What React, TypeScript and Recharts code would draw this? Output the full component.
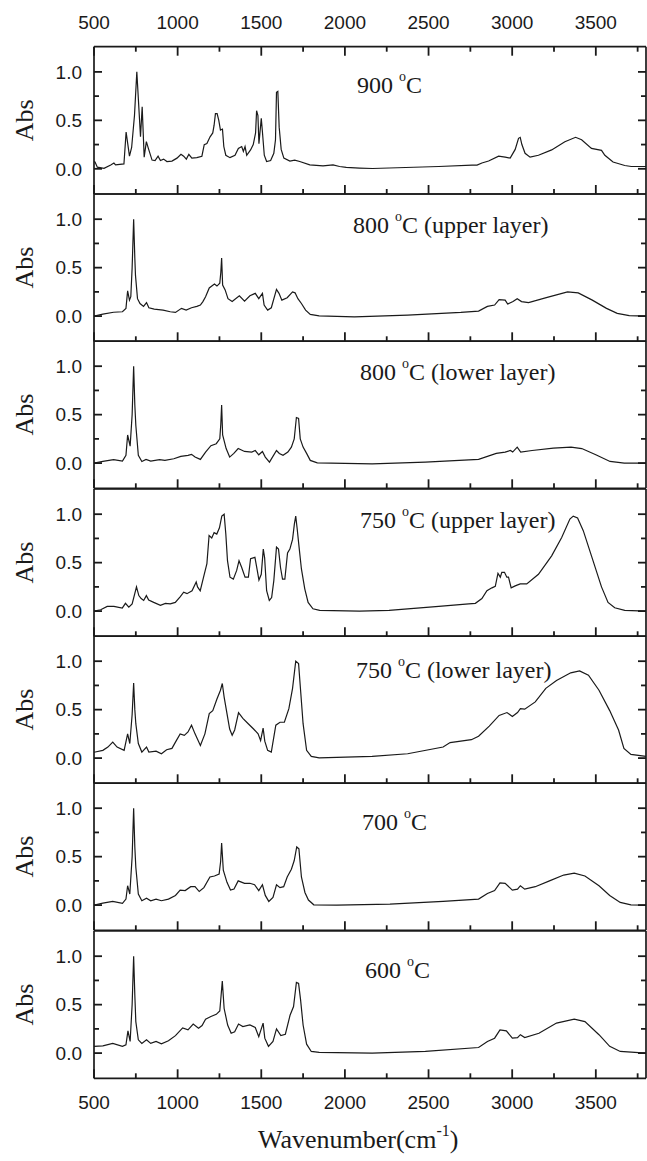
import { LineChart, Line, XAxis, YAxis, Customized } from 'recharts';

// wavenumber axis (cm-1) and absorbance axis
const majorWavenumbers = [500, 1000, 1500, 2000, 2500, 3000, 3500];
const minorWavenumbers = [750, 1250, 1750, 2250, 2750, 3250, 3750];
const majorAbs = [0, 0.5, 1];
const minorAbs = [0.25, 0.75];

// spectra: [wavenumber, abs]
const spectrum900: [number, number][] = [
  [500, 0.075], [506, 0.07], [520, 0.017], [560, 0.005], [600, 0.04], [619, 0.06], [629, 0.04], [679, 0.05],
  [692, 0.38], [712, 0.13], [725, 0.22], [742, 0.55], [756, 1.0], [778, 0.33], [788, 0.64], [800, 0.12],
  [813, 0.28], [825, 0.21], [847, 0.09], [865, 0.085], [883, 0.13], [897, 0.085], [916, 0.1], [936, 0.075],
  [966, 0.08], [996, 0.11], [1020, 0.15], [1036, 0.13], [1052, 0.1], [1067, 0.15], [1085, 0.11], [1115, 0.115],
  [1145, 0.13], [1159, 0.25], [1175, 0.26], [1194, 0.33], [1210, 0.37], [1218, 0.45], [1226, 0.57], [1236, 0.57],
  [1246, 0.5], [1256, 0.4], [1268, 0.41], [1276, 0.23], [1288, 0.14], [1313, 0.115], [1343, 0.14], [1363, 0.21],
  [1383, 0.23], [1393, 0.18], [1403, 0.23], [1413, 0.14], [1436, 0.195], [1452, 0.25], [1466, 0.37], [1472, 0.6],
  [1480, 0.55], [1486, 0.26], [1500, 0.52], [1506, 0.4], [1518, 0.14], [1532, 0.075], [1556, 0.085], [1575, 0.16],
  [1585, 0.3], [1591, 0.79], [1599, 0.8], [1607, 0.43], [1619, 0.2], [1635, 0.11], [1671, 0.08], [1700, 0.09],
  [1730, 0.075], [1790, 0.04], [1869, 0.03], [1929, 0.04], [1968, 0.024], [2008, 0.014], [2087, 0.007],
  [2165, 0.003], [2561, 0.024], [2760, 0.038], [2790, 0.038], [2819, 0.06], [2859, 0.08], [2919, 0.13],
  [2958, 0.12], [2988, 0.11], [3018, 0.2], [3038, 0.315], [3048, 0.325], [3058, 0.25], [3077, 0.16], [3107, 0.12],
  [3157, 0.14], [3236, 0.195], [3315, 0.28], [3379, 0.325], [3415, 0.3], [3474, 0.21], [3534, 0.19], [3554, 0.14],
  [3603, 0.07], [3673, 0.034], [3712, 0.024], [3800, 0.024],
];

const spectrum800Upper: [number, number][] = [
  [500, 0.0], [553, 0.02], [617, 0.04], [670, 0.045], [691, 0.08], [701, 0.26], [712, 0.165], [720, 0.2],
  [728, 0.5], [737, 1.0], [744, 0.6], [748, 0.42], [760, 0.18], [775, 0.13], [796, 0.1], [814, 0.14],
  [828, 0.086], [860, 0.072], [913, 0.062], [956, 0.045], [987, 0.038], [1023, 0.08], [1051, 0.062], [1083, 0.086],
  [1115, 0.1], [1136, 0.114], [1151, 0.15], [1167, 0.2], [1189, 0.29], [1220, 0.33], [1235, 0.31], [1252, 0.34],
  [1258, 0.45], [1263, 0.6], [1269, 0.32], [1284, 0.27], [1301, 0.18], [1326, 0.15], [1369, 0.21], [1400, 0.155],
  [1432, 0.21], [1464, 0.235], [1485, 0.18], [1507, 0.235], [1517, 0.114], [1538, 0.062], [1560, 0.086],
  [1591, 0.275], [1606, 0.235], [1623, 0.165], [1655, 0.19], [1687, 0.25], [1702, 0.24], [1719, 0.18],
  [1740, 0.13], [1765, 0.062], [1793, 0.017], [1846, 0.003], [2057, -0.007], [2375, 0.01], [2693, 0.038],
  [2799, 0.052], [2852, 0.1], [2895, 0.114], [2922, 0.17], [2958, 0.165], [2973, 0.124], [3005, 0.15],
  [3030, 0.18], [3056, 0.15], [3098, 0.14], [3204, 0.19], [3331, 0.25], [3395, 0.24], [3479, 0.165],
  [3564, 0.08], [3628, 0.028], [3700, 0.005], [3800, 0.0],
];

const spectrum800Lower: [number, number][] = [
  [500, 0.0], [553, 0.017], [617, 0.035], [670, 0.02], [691, 0.08], [701, 0.29], [716, 0.175], [728, 0.5],
  [737, 1.0], [744, 0.6], [750, 0.39], [765, 0.08], [786, 0.017], [811, 0.038], [839, 0.02], [892, 0.035],
  [924, 0.028], [977, 0.045], [1019, 0.07], [1062, 0.08], [1083, 0.09], [1104, 0.062], [1136, 0.038],
  [1167, 0.114], [1199, 0.18], [1231, 0.2], [1252, 0.25], [1258, 0.4], [1263, 0.6], [1269, 0.29], [1290, 0.15],
  [1311, 0.062], [1336, 0.1], [1362, 0.15], [1400, 0.12], [1443, 0.114], [1464, 0.13], [1485, 0.086],
  [1507, 0.12], [1524, 0.062], [1549, 0.01], [1591, 0.13], [1608, 0.1], [1630, 0.08], [1659, 0.114],
  [1680, 0.165], [1697, 0.25], [1710, 0.47], [1723, 0.46], [1733, 0.25], [1750, 0.165], [1771, 0.1],
  [1793, 0.028], [1835, 0.003], [2163, -0.007], [2481, 0.01], [2799, 0.038], [2905, 0.1], [2958, 0.114],
  [2990, 0.13], [3003, 0.114], [3030, 0.165], [3051, 0.114], [3119, 0.13], [3246, 0.155], [3352, 0.165],
  [3416, 0.15], [3500, 0.086], [3585, 0.017], [3670, 0.0], [3800, 0.0],
];

const spectrum750Upper: [number, number][] = [
  [500, 0.0], [540, 0.014], [579, 0.048], [619, 0.048], [669, 0.03], [688, 0.08], [708, 0.04], [728, 0.075],
  [754, 0.25], [768, 0.16], [782, 0.13], [797, 0.11], [813, 0.16], [827, 0.115], [857, 0.09], [897, 0.06],
  [927, 0.08], [956, 0.075], [986, 0.09], [1016, 0.15], [1036, 0.195], [1056, 0.18], [1086, 0.21], [1111, 0.3],
  [1119, 0.25], [1135, 0.21], [1155, 0.35], [1175, 0.49], [1188, 0.78], [1204, 0.755], [1218, 0.81],
  [1234, 0.795], [1250, 0.86], [1264, 0.98], [1278, 1.0], [1288, 0.795], [1298, 0.52], [1313, 0.35],
  [1333, 0.33], [1353, 0.42], [1367, 0.52], [1383, 0.45], [1403, 0.35], [1423, 0.35], [1436, 0.54],
  [1462, 0.555], [1476, 0.42], [1486, 0.32], [1500, 0.38], [1512, 0.64], [1520, 0.55], [1532, 0.21],
  [1548, 0.11], [1562, 0.14], [1575, 0.315], [1591, 0.66], [1603, 0.64], [1615, 0.45], [1627, 0.33],
  [1641, 0.33], [1657, 0.6], [1671, 0.64], [1687, 0.74], [1698, 0.9], [1706, 0.98], [1714, 0.86], [1726, 0.66],
  [1740, 0.435], [1760, 0.23], [1780, 0.09], [1809, 0.024], [1849, 0.007], [2087, 0.0], [2264, 0.007],
  [2561, 0.048], [2740, 0.075], [2780, 0.08], [2819, 0.13], [2849, 0.21], [2879, 0.24], [2899, 0.255],
  [2915, 0.39], [2929, 0.35], [2938, 0.4], [2954, 0.4], [2968, 0.35], [2978, 0.35], [2994, 0.24], [3018, 0.26],
  [3048, 0.28], [3087, 0.28], [3157, 0.38], [3236, 0.57], [3296, 0.76], [3345, 0.95], [3365, 0.98],
  [3391, 0.96], [3425, 0.83], [3474, 0.57], [3534, 0.25], [3573, 0.09], [3613, 0.034], [3673, 0.007], [3800, 0.0],
];

const spectrum750Lower: [number, number][] = [
  [500, 0.06], [553, 0.08], [583, 0.114], [612, 0.165], [638, 0.114], [680, 0.08], [701, 0.25], [714, 0.15],
  [728, 0.45], [737, 0.775], [744, 0.5], [750, 0.355], [765, 0.15], [786, 0.062], [814, 0.114], [828, 0.062],
  [871, 0.072], [903, 0.045], [934, 0.086], [966, 0.1], [987, 0.165], [1015, 0.25], [1040, 0.235], [1062, 0.27],
  [1083, 0.34], [1104, 0.25], [1136, 0.13], [1163, 0.25], [1189, 0.46], [1210, 0.49], [1235, 0.61], [1256, 0.7],
  [1267, 0.77], [1278, 0.63], [1295, 0.46], [1311, 0.3], [1326, 0.235], [1341, 0.29], [1364, 0.47],
  [1390, 0.41], [1422, 0.355], [1454, 0.3], [1481, 0.25], [1496, 0.18], [1511, 0.31], [1521, 0.175],
  [1538, 0.08], [1560, 0.062], [1587, 0.34], [1612, 0.37], [1638, 0.37], [1665, 0.51], [1687, 0.72],
  [1706, 1.0], [1723, 0.975], [1735, 0.7], [1750, 0.355], [1771, 0.08], [1799, 0.017], [1846, 0.003],
  [2163, 0.017], [2375, 0.045], [2587, 0.114], [2629, 0.16], [2756, 0.19], [2799, 0.225], [2863, 0.33],
  [2922, 0.44], [2969, 0.47], [3001, 0.43], [3032, 0.47], [3049, 0.51], [3075, 0.505], [3138, 0.58],
  [3201, 0.72], [3265, 0.8], [3350, 0.88], [3403, 0.9], [3456, 0.855], [3519, 0.7], [3583, 0.49],
  [3636, 0.29], [3668, 0.1], [3710, 0.038], [3800, 0.017],
];

const spectrum700: [number, number][] = [
  [500, 0.0], [553, 0.02], [612, 0.038], [670, 0.017], [691, 0.062], [701, 0.2], [714, 0.114], [728, 0.5],
  [737, 1.0], [744, 0.6], [750, 0.39], [765, 0.114], [786, 0.045], [814, 0.072], [839, 0.045], [871, 0.062],
  [903, 0.045], [945, 0.062], [987, 0.1], [1015, 0.155], [1045, 0.15], [1078, 0.19], [1104, 0.19],
  [1129, 0.14], [1157, 0.18], [1193, 0.29], [1220, 0.3], [1248, 0.32], [1257, 0.45], [1263, 0.64],
  [1273, 0.36], [1295, 0.235], [1316, 0.155], [1337, 0.165], [1362, 0.25], [1400, 0.225], [1432, 0.225],
  [1460, 0.21], [1485, 0.15], [1507, 0.21], [1524, 0.1], [1545, 0.038], [1570, 0.08], [1591, 0.21],
  [1612, 0.18], [1634, 0.19], [1655, 0.29], [1680, 0.37], [1697, 0.46], [1712, 0.6], [1725, 0.58],
  [1740, 0.29], [1761, 0.13], [1782, 0.052], [1814, 0.003], [1952, 0.0], [2269, 0.01], [2587, 0.038],
  [2799, 0.062], [2852, 0.12], [2895, 0.15], [2927, 0.23], [2958, 0.225], [3001, 0.155], [3032, 0.165],
  [3049, 0.2], [3075, 0.165], [3138, 0.19], [3223, 0.25], [3308, 0.31], [3371, 0.33], [3435, 0.3],
  [3519, 0.2], [3583, 0.1], [3646, 0.028], [3710, 0.003], [3800, 0.0],
];

const spectrum600: [number, number][] = [
  [500, 0.07], [553, 0.075], [612, 0.1], [670, 0.07], [691, 0.085], [703, 0.23], [716, 0.12], [728, 0.5],
  [737, 1.0], [744, 0.6], [750, 0.325], [765, 0.137], [786, 0.1], [814, 0.137], [839, 0.1], [871, 0.12],
  [903, 0.096], [945, 0.127], [987, 0.18], [1030, 0.26], [1062, 0.24], [1093, 0.3], [1125, 0.257],
  [1146, 0.284], [1167, 0.35], [1199, 0.377], [1231, 0.4], [1252, 0.435], [1267, 0.743], [1278, 0.46],
  [1299, 0.29], [1320, 0.205], [1341, 0.22], [1364, 0.3], [1390, 0.274], [1432, 0.29], [1464, 0.264],
  [1485, 0.17], [1511, 0.31], [1521, 0.154], [1543, 0.07], [1570, 0.12], [1591, 0.25], [1617, 0.18],
  [1644, 0.195], [1672, 0.39], [1693, 0.48], [1710, 0.73], [1723, 0.72], [1735, 0.55], [1750, 0.29],
  [1771, 0.092], [1799, 0.017], [1846, 0.007], [2163, 0.0], [2481, 0.017], [2799, 0.058], [2852, 0.12],
  [2895, 0.154], [2927, 0.24], [2965, 0.23], [3001, 0.154], [3032, 0.16], [3049, 0.19], [3075, 0.16],
  [3160, 0.205], [3265, 0.31], [3371, 0.35], [3435, 0.325], [3519, 0.19], [3583, 0.07], [3646, 0.017], [3800, 0.0],
];

const temperatures = ['900', '800', '800', '750', '750', '700', '600'];
const layerNotes = ['', ' (upper layer)', ' (lower layer)', ' (upper layer)', ' (lower layer)', '', ''];
const spectra = [spectrum900, spectrum800Upper, spectrum800Lower, spectrum750Upper, spectrum750Lower, spectrum700, spectrum600];

// layout
const W = 647;
const H = 1161;
const PLOT_LEFT = 94;
const PLOT_RIGHT = W - 1;
const PLOT_TOP = 46.7;
const PANEL_H = 147.3;
const X_MIN = 500;
const X_MAX = 3800;
const Y_MIN = -0.26;
const Y_MAX = 1.26;
const AX = 1; // axis band thickness (recharts skips axes of size 0)
const INK = '#1a1a1a';
const SANS = '"Liberation Sans", Arial, sans-serif';
const SERIF = '"Liberation Serif", "Times New Roman", serif';
// title placement per panel: left x, baseline expressed in abs units
const titleX = [357, 353, 360, 360, 356, 362, 365];
const titleBase = [0.78, 0.855, 0.855, 0.86, 0.83, 0.77, 0.77];

const frame = { stroke: INK, strokeWidth: 1.7 };
const tickFont = { fontSize: 19, fontFamily: SANS, fill: INK };

function Panel({ index }: { index: number }) {
  const first = index === 0;
  const last = index === spectra.length - 1;
  const extraTop = first ? PLOT_TOP : 0;
  const extraBottom = last ? H - (PLOT_TOP + spectra.length * PANEL_H) : 0;
  // 1px of slack above/below so each chart svg has room for its frame
  const chartTop = PLOT_TOP + index * PANEL_H - extraTop - 1;
  const height = PANEL_H + extraTop + extraBottom + 2;
  const data = spectra[index].map(([wn, abs]) => ({ wn, abs }));
  const localTop = extraTop + 1;
  const localBottom = localTop + PANEL_H;
  const valueY = (v: number) => localTop + ((Y_MAX - v) / (Y_MAX - Y_MIN)) * PANEL_H;
  const valueX = (v: number) => PLOT_LEFT + ((v - X_MIN) / (X_MAX - X_MIN)) * (PLOT_RIGHT - PLOT_LEFT);
  const midY = localTop + PANEL_H / 2;

  const xCommon = { type: 'number' as const, dataKey: 'wn', domain: [X_MIN, X_MAX], allowDataOverflow: true, interval: 0 as const, height: AX };
  const yCommon = { type: 'number' as const, dataKey: 'abs', domain: [Y_MIN, Y_MAX], allowDataOverflow: true, interval: 0 as const, width: AX };

  // inward tick marks: major and minor
  const tickSegments: { x1: number; y1: number; x2: number; y2: number }[] = [];
  const xTicks = [...majorWavenumbers.map((v) => [v, 9]), ...minorWavenumbers.map((v) => [v, 5])];
  const yTicks = [...majorAbs.map((v) => [v, 8]), ...minorAbs.map((v) => [v, 5])];
  xTicks.forEach(([v, len]) => {
    const x = valueX(v);
    tickSegments.push({ x1: x, y1: localBottom, x2: x, y2: localBottom - len });
    if (first) tickSegments.push({ x1: x, y1: localTop, x2: x, y2: localTop + len });
  });
  yTicks.forEach(([v, len]) => {
    const y = valueY(v);
    tickSegments.push({ x1: PLOT_LEFT, y1: y, x2: PLOT_LEFT + len, y2: y });
    tickSegments.push({ x1: PLOT_RIGHT, y1: y, x2: PLOT_RIGHT - len, y2: y });
  });

  const Decorations = () => (
    <g>
      {tickSegments.map((s, i) => (
        <line key={i} x1={s.x1} y1={s.y1} x2={s.x2} y2={s.y2} stroke={INK} strokeWidth={1.8} />
      ))}
      <text
        x={33}
        y={midY}
        transform={`rotate(-90, 33, ${midY})`}
        textAnchor="middle"
        fontFamily={SERIF}
        fontSize={26}
        fill={INK}
      >
        Abs
      </text>
      <text x={titleX[index]} y={valueY(titleBase[index])} fontFamily={SERIF} fontSize={24} fill={INK} style={{ whiteSpace: 'pre' }}>
        {temperatures[index] + ' '}
        <tspan fontSize={14} dy={-12}>o</tspan>
        <tspan dy={12}>{'C' + layerNotes[index]}</tspan>
      </text>
      {last && (
        <text x={258} y={1147 - chartTop} fontFamily={SERIF} fontSize={26} fill={INK}>
          Wavenumber(cm
          <tspan fontSize={16} dy={-12}>-1</tspan>
          <tspan dy={12}>)</tspan>
        </text>
      )}
    </g>
  );

  return (
    <div style={{ position: 'absolute', left: 0, top: chartTop }}>
      <LineChart
        width={W}
        height={height}
        data={data}
        margin={{
          top: localTop - (first ? AX : 0),
          right: W - PLOT_RIGHT,
          bottom: extraBottom + 1 - (last ? AX : 0),
          left: PLOT_LEFT - AX,
        }}
      >
        {/* frame (mirrored axes take no space) */}
        <XAxis {...xCommon} xAxisId="bottom" mirror ticks={majorWavenumbers} tickLine={false} axisLine={frame} tick={false} />
        <XAxis {...xCommon} xAxisId="top" orientation="top" mirror ticks={majorWavenumbers} tickLine={false} axisLine={frame} tick={false} />
        <YAxis {...yCommon} yAxisId="left" mirror ticks={majorAbs} tickLine={false} axisLine={frame} tick={false} />
        <YAxis {...yCommon} yAxisId="right" orientation="right" mirror ticks={majorAbs} tickLine={false} axisLine={frame} tick={false} />

        {/* outward tick labels */}
        <YAxis
          {...yCommon}
          yAxisId="leftLabels"
          ticks={majorAbs}
          tickSize={0}
          tickMargin={12}
          tickLine={false}
          axisLine={false}
          tick={tickFont}
          tickFormatter={(v: number) => v.toFixed(1)}
        />
        {last && (
          <XAxis {...xCommon} xAxisId="bottomLabels" ticks={majorWavenumbers} tickSize={0} tickMargin={17} tickLine={false} axisLine={false} tick={tickFont} />
        )}
        {first && (
          <XAxis {...xCommon} xAxisId="topLabels" orientation="top" ticks={majorWavenumbers} tickSize={0} tickMargin={18} tickLine={false} axisLine={false} tick={tickFont} />
        )}

        <Line
          xAxisId="bottom"
          yAxisId="left"
          type="linear"
          dataKey="abs"
          stroke={INK}
          strokeWidth={1.2}
          dot={false}
          activeDot={false}
          isAnimationActive={false}
        />
        <Customized component={<Decorations />} />
      </LineChart>
    </div>
  );
}

export default function App() {
  return (
    <div style={{ position: 'absolute', left: 0, top: 0, width: W, height: H, background: '#fff' }}>
      {spectra.map((_, i) => (
        <Panel key={i} index={i} />
      ))}
    </div>
  );
}
